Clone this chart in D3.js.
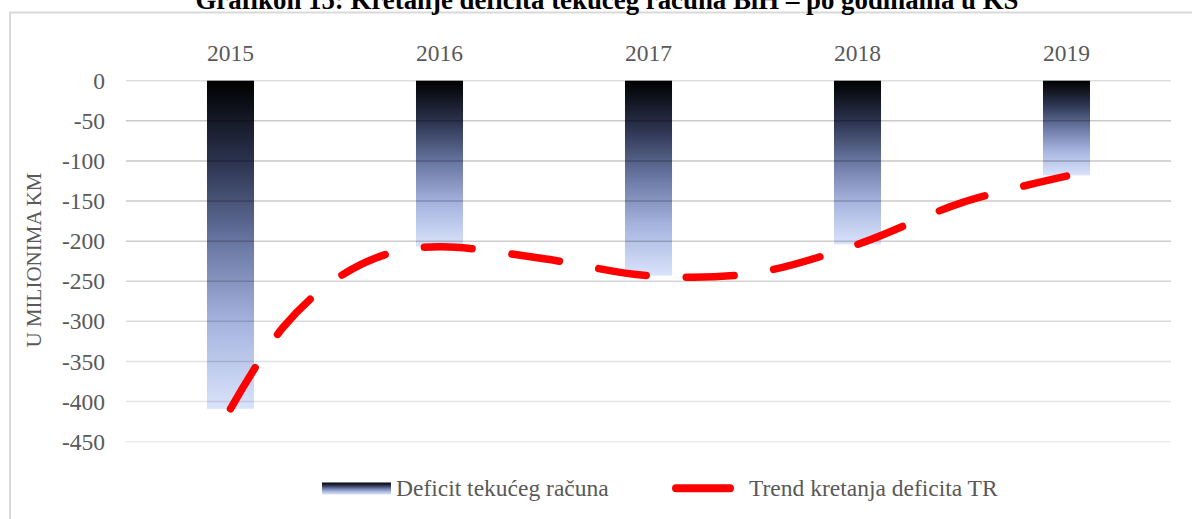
<!DOCTYPE html>
<html lang="bs">
<head>
<meta charset="UTF-8" />
<title>Grafikon 15</title>
<script src="https://d3js.org/d3.v7.min.js"></script>
<style>
  body { margin: 0; background: #fff; }
  svg text { font-family: "Liberation Serif", "Times New Roman", serif; }
  .lbl { fill: #595959; font-size: 23.5px; }
</style>
</head>
<body>
<svg id="chart" width="1192" height="519"></svg>
<script>
// data
const years = ["2015", "2016", "2017", "2018", "2019"];
const deficit = [-409, -207, -243, -204, -118];
// trend line (polynomial trend) at these positions
const trendPos = [2015, 2015.25, 2015.5, 2015.75, 2016, 2016.5, 2017, 2017.5, 2018, 2018.5, 2019];
const trendValues = [-409, -308, -248, -216, -207, -222, -243, -240, -204, -152, -119];
const yTicks = [0, -50, -100, -150, -200, -250, -300, -350, -400, -450];
const title = "Grafikon 15: Kretanje deficita tekućeg računa BiH – po godinama u KS";
const yTitle = "U MILIONIMA KM";
const legendLabels = ["Deficit tekućeg računa", "Trend kretanja deficita TR"];

const svg = d3.select("#chart");
const plot = { left: 126, right: 1171, top: 80.7, bottom: 441.7 };

const defs = svg.append("defs");
const grad = defs.append("linearGradient")
  .attr("id", "barGrad")
  .attr("x1", 0).attr("y1", 0).attr("x2", 0).attr("y2", 1);
[[0, "#000000"], [0.25, "#2c3450"], [0.5, "#6a78a4"], [0.75, "#a8b6e0"], [1, "#dae3fb"]]
  .forEach(([o, c]) => grad.append("stop").attr("offset", o).attr("stop-color", c));

// outer frame
svg.append("rect")
  .attr("x", 10).attr("y", 12.5)
  .attr("width", 1200).attr("height", 520)
  .attr("fill", "none").attr("stroke", "#d9d9d9").attr("stroke-width", 2);

// title (top half cut off in the original)
svg.append("text")
  .attr("x", 607).attr("y", 9)
  .attr("text-anchor", "middle")
  .attr("font-weight", "bold")
  .attr("font-size", "26.7px")
  .attr("fill", "#000")
  .attr("textLength", 823)
  .attr("lengthAdjust", "spacingAndGlyphs")
  .text(title);

const x = d3.scaleBand()
  .domain(years)
  .range([plot.left, plot.right])
  .paddingInner(0.775)
  .paddingOuter(0.3875);

const y = d3.scaleLinear()
  .domain([0, -450])
  .range([plot.top, plot.bottom]);

// bars
svg.append("g").selectAll("rect")
  .data(years)
  .join("rect")
  .attr("x", d => x(d))
  .attr("y", y(0))
  .attr("width", x.bandwidth())
  .attr("height", (d, i) => y(deficit[i]) - y(0))
  .attr("fill", "url(#barGrad)");

// gridlines on top of bars
const gridOpacity = [0.13, 0.21, 0.22, 0.21, 0.2, 0.17, 0.14, 0.12, 0.1, 0.08];
svg.append("g").selectAll("line")
  .data(yTicks)
  .join("line")
  .attr("x1", plot.left).attr("x2", plot.right)
  .attr("y1", d => y(d)).attr("y2", d => y(d))
  .attr("stroke", "#000")
  .attr("stroke-opacity", (d, i) => gridOpacity[i])
  .attr("stroke-width", 1.5);

// category labels above the plot
const xAxis = svg.append("g")
  .attr("transform", `translate(0,${plot.top})`)
  .call(d3.axisTop(x).tickSize(0).tickPadding(19.7));
xAxis.attr("font-family", null).attr("font-size", null);
xAxis.select(".domain").remove();
xAxis.selectAll("text").attr("class", "lbl");

// value axis (plain hyphen as in the original)
const yAxis = svg.append("g")
  .attr("transform", `translate(${plot.left},0)`)
  .call(d3.axisLeft(y).tickValues(yTicks).tickSize(0).tickPadding(21).tickFormat(d => String(d)));
yAxis.attr("font-family", null).attr("font-size", null);
yAxis.select(".domain").remove();
yAxis.selectAll("text").attr("class", "lbl");

svg.append("text")
  .attr("class", "lbl")
  .attr("text-anchor", "middle")
  .attr("transform", "translate(41,260) rotate(-90)")
  .style("font-size", "21px")
  .text(yTitle);

// trend line
const xYear = d3.scaleLinear()
  .domain([2015, 2019])
  .range([x("2015") + x.bandwidth() / 2, x("2019") + x.bandwidth() / 2]);

const trendLine = d3.line()
  .x(d => xYear(d[0]))
  .y(d => y(d[1]))
  .curve(d3.curveCatmullRom.alpha(0.5));

svg.append("path")
  .datum(d3.zip(trendPos, trendValues))
  .attr("d", trendLine)
  .attr("fill", "none")
  .attr("stroke", "#ff0000")
  .attr("stroke-width", 7.5)
  .attr("stroke-linecap", "round")
  .attr("stroke-dasharray", "48 40");

// legend
const leg = svg.append("g");
leg.append("rect")
  .attr("x", 322).attr("y", 482.5)
  .attr("width", 69).attr("height", 12)
  .attr("fill", "url(#barGrad)");
leg.append("text")
  .attr("class", "lbl")
  .attr("x", 396).attr("y", 495.7)
  .text(legendLabels[0]);
leg.append("line")
  .attr("x1", 676).attr("x2", 730)
  .attr("y1", 488.3).attr("y2", 488.3)
  .attr("stroke", "#ff0000")
  .attr("stroke-width", 8)
  .attr("stroke-linecap", "round");
leg.append("text")
  .attr("class", "lbl")
  .attr("x", 749).attr("y", 495.7)
  .text(legendLabels[1]);
</script>
</body>
</html>
